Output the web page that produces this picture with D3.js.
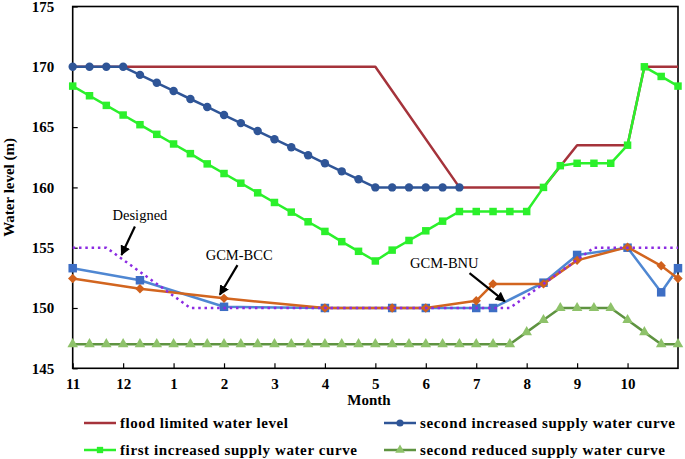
<!DOCTYPE html>
<html>
<head>
<meta charset="utf-8">
<script src="https://cdn.jsdelivr.net/npm/d3@7"></script>
<style>
  html, body { margin: 0; padding: 0; background: #fff; }
  svg { display: block; }
</style>
</head>
<body>
<svg id="chart" width="685" height="459"></svg>
<script>
// ---------- DATA (x = ten-day period index from start of November) ----------
const monthLabels = ["11","12","1","2","3","4","5","6","7","8","9","10"];
const yTicks = [145,150,155,160,165,170,175];

const floodX = [0,18,23,28,30,33,34,36];
const floodY = [170,170,160,160,163.5,163.5,170,170];

const secondIncX = [0,1,2,3,4,5,6,7,8,9,10,11,12,13,14,15,16,17,18,19,20,21,22,23];
const secondIncY = [170,170,170,170,169.33,168.67,168,167.33,166.67,166,165.33,164.67,164,163.33,162.67,162,161.33,160.67,160,160,160,160,160,160];

const firstIncX = [0,1,2,3,4,5,6,7,8,9,10,11,12,13,14,15,16,17,18,19,20,21,22,23,24,25,26,27,28,29,30,31,32,33,34,35,36];
const firstIncY = [168.4,167.6,166.8,166.0,165.2,164.4,163.6,162.8,161.95,161.15,160.35,159.55,158.75,157.95,157.15,156.35,155.5,154.7,153.9,154.8,155.6,156.4,157.2,158,158,158,158,158,160,161.8,162,162,162,163.5,170,169.2,168.4];

const secondRedX = [0,1,2,3,4,5,6,7,8,9,10,11,12,13,14,15,16,17,18,19,20,21,22,23,24,25,26,27,28,29,30,31,32,33,34,35,36];
const secondRedY = [147,147,147,147,147,147,147,147,147,147,147,147,147,147,147,147,147,147,147,147,147,147,147,147,147,147,147,148,149,150,150,150,150,149,148,147,147];

const designedX = [0,2,7,26,31,36];
const designedY = [155,155,150,150,155,155];

const gcmX = [0,4,9,15,19,21,24,25,28,30,33,35,36];
const bnuY = [153.3,152.3,150.1,150,150,150,150,150,152.1,154.4,155,151.3,153.3];
const bccY = [152.45,151.6,150.8,150,150,150,150.6,152.0,152.0,153.95,155.05,153.5,152.45];

// annotations: label, text anchor (x idx, value), arrow start, arrow end
const annotations = [
  {label: "Designed", tx: 4.0, ty: 157.7, x1: 3.7, y1: 156.75, x2: 2.9, y2: 154.4},
  {label: "GCM-BCC",  tx: 9.9, ty: 154.4, x1: 9.8, y1: 153.55, x2: 8.75, y2: 151.1},
  {label: "GCM-BNU",  tx: 22.1, ty: 153.7, x1: 23.6, y1: 152.9, x2: 25.7, y2: 150.55}
];

const legendItems = [
  {label: "flood limited water level", color: "#a5333b", marker: "none", len: 168},
  {label: "second increased supply water curve", color: "#2f5597", marker: "circle", len: 255},
  {label: "first increased supply water curve", color: "#2bf02b", marker: "square", len: 237},
  {label: "second reduced supply water curve", color: "#5e9340", marker: "triangle", len: 245}
];

// ---------- LAYOUT ----------
const svg = d3.select("#chart");
const L = 72.7, R = 678, T = 6.5, B = 368.3;
const x = d3.scaleLinear().domain([0,36]).range([L,R]);
const y = d3.scaleLinear().domain([145,175]).range([B,T]);
const serif = "'Liberation Serif','Times New Roman',serif";

// axes with inward ticks
const xAxis = d3.axisBottom(x)
  .tickValues(monthLabels.map((d,i)=>i*3))
  .tickFormat((d,i)=>monthLabels[i])
  .tickSize(-5).tickPadding(10.5);
const yAxis = d3.axisLeft(y)
  .tickValues(yTicks).tickFormat(d3.format("d"))
  .tickSize(-5).tickPadding(18.5);

const gx = svg.append("g").attr("transform",`translate(0,${B})`).call(xAxis);
const gy = svg.append("g").attr("transform",`translate(${L},0)`).call(yAxis);
[gx,gy].forEach(g=>{
  g.select(".domain").remove();
  g.selectAll(".tick line").attr("stroke","#000").attr("stroke-width",1.2);
  g.selectAll("text").attr("font-family",serif).attr("font-weight","bold")
    .attr("font-size",15).attr("fill","#000");
});

// frame
svg.append("rect").attr("x",L).attr("y",T).attr("width",R-L).attr("height",B-T)
  .attr("fill","none").attr("stroke","#000").attr("stroke-width",1.6);

// axis titles
svg.append("text").attr("x",369).attr("y",404.5).attr("text-anchor","middle")
  .attr("font-family",serif).attr("font-weight","bold").attr("font-size",15).text("Month");
svg.append("text").attr("transform",`translate(14,${(T+B)/2}) rotate(-90)`)
  .attr("text-anchor","middle").attr("font-family",serif).attr("font-weight","bold")
  .attr("font-size",15).text("Water level (m)");

const line = d3.line().x(d=>x(d[0])).y(d=>y(d[1]));
const zip = (xs,ys)=>xs.map((v,i)=>[v,ys[i]]);
const plot = svg.append("g");

function drawLine(xs,ys,color,w,dash){
  plot.append("path").datum(zip(xs,ys)).attr("d",line).attr("fill","none")
    .attr("stroke",color).attr("stroke-width",w).attr("stroke-linejoin","round")
    .attr("stroke-dasharray",dash||null);
}
function drawMarkers(xs,ys,type,fill,size){
  const sym = {circle:d3.symbolCircle, square:d3.symbolSquare, triangle:d3.symbolTriangle, diamond:d3.symbolSquare}[type];
  const rot = type==="diamond" ? " rotate(45)" : "";
  plot.append("g").selectAll("path").data(zip(xs,ys)).join("path")
    .attr("transform",d=>`translate(${x(d[0])},${y(d[1])})${rot}`)
    .attr("d",d3.symbol().type(sym).size(size)).attr("fill",fill);
}

// series
drawLine(secondRedX,secondRedY,"#5e9340",2.5);
drawMarkers(secondRedX,secondRedY,"triangle","#8ec26a",48);

drawLine(gcmX,bnuY,"#4f87d2",2.5);
drawMarkers(gcmX,bnuY,"square","#3d6ec4",72);
drawLine(gcmX,bccY,"#d2651f",2.5);
drawMarkers(gcmX,bccY,"diamond","#d0601c",44);

drawLine(designedX,designedY,"#8b2be2",2.5,"2.5,3.8");

drawLine(floodX,floodY,"#a5333b",2.5);
drawLine(secondIncX,secondIncY,"#2f5597",2.5);
drawMarkers(secondIncX,secondIncY,"circle","#2f5597",56);
drawLine(firstIncX,firstIncY,"#2bf02b",2.5);
drawMarkers(firstIncX,firstIncY,"square","#2bf02b",56);

// annotations
svg.append("defs").append("marker").attr("id","arrow").attr("viewBox","0 0 10 10")
  .attr("refX",9).attr("refY",5).attr("markerWidth",4.6).attr("markerHeight",4.6)
  .attr("orient","auto").append("path").attr("d","M0,0 L10,5 L0,10 z").attr("fill","#000");
annotations.forEach(a=>{
  svg.append("text").attr("x",x(a.tx)).attr("y",y(a.ty)+5).attr("text-anchor","middle")
    .attr("font-family",serif).attr("font-size",14.5).attr("fill","#000").text(a.label);
  svg.append("line").attr("x1",x(a.x1)).attr("y1",y(a.y1)).attr("x2",x(a.x2)).attr("y2",y(a.y2))
    .attr("stroke","#000").attr("stroke-width",2.2).attr("marker-end","url(#arrow)");
});

// legend
const legPos = [[84,423],[384,423],[84,450],[384,450]];
legendItems.forEach((it,i)=>{
  const [lx,ly] = legPos[i];
  const g = svg.append("g").attr("transform",`translate(${lx},${ly})`);
  g.append("line").attr("x1",0).attr("x2",32).attr("y1",0).attr("y2",0)
    .attr("stroke",it.color).attr("stroke-width",2.5);
  if(it.marker!=="none"){
    const sym = {circle:d3.symbolCircle, square:d3.symbolSquare, triangle:d3.symbolTriangle}[it.marker];
    const fill = it.marker==="triangle" ? "#8ec26a" : it.color;
    g.append("path").attr("transform","translate(16,0)").attr("d",d3.symbol().type(sym).size(40)).attr("fill",fill);
  }
  g.append("text").attr("x",36).attr("y",5).attr("font-family",serif).attr("font-weight","bold")
    .attr("font-size",15).attr("textLength",it.len).attr("lengthAdjust","spacing").text(it.label);
});
</script>
</body>
</html>
